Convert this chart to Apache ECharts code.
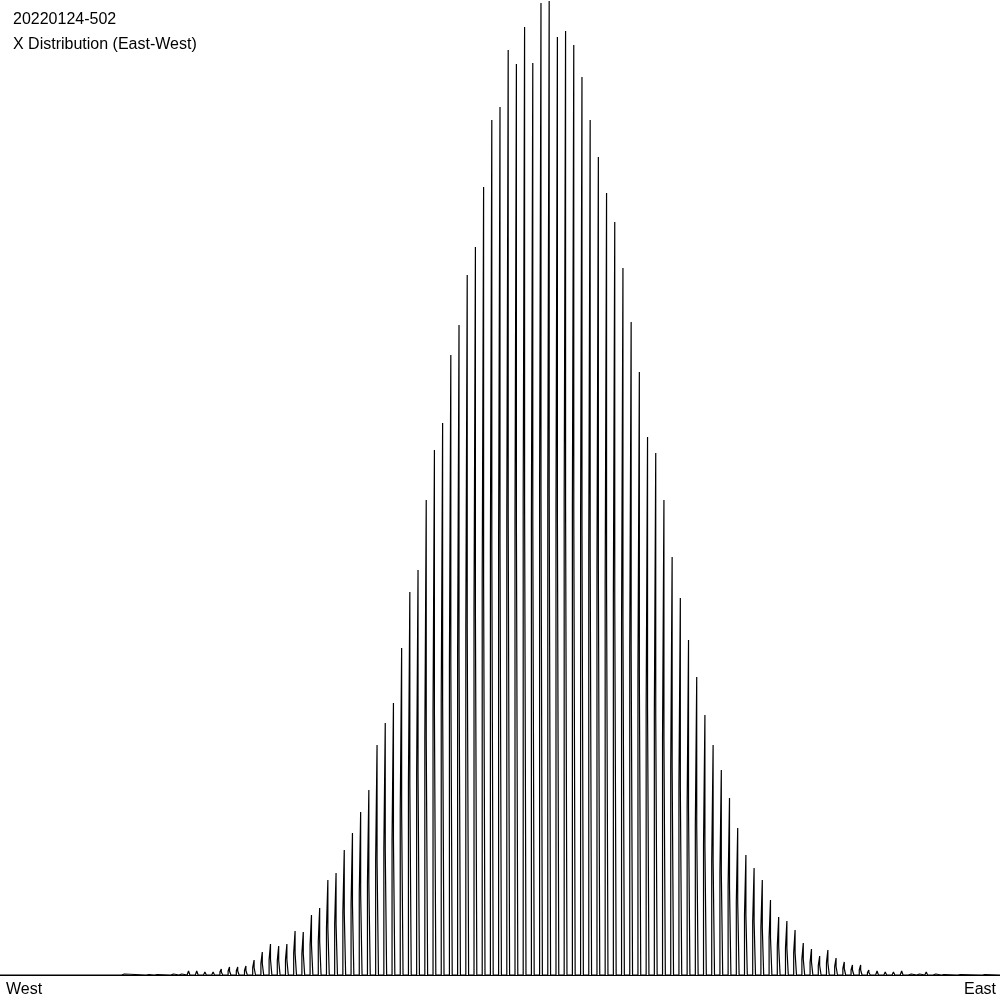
<!DOCTYPE html>
<html>
<head>
<meta charset="utf-8">
<script src="https://cdn.jsdelivr.net/npm/echarts@6/dist/echarts.min.js"></script>
<style>
html,body{margin:0;padding:0;background:#fff;}
#chart{width:1000px;height:1000px;}
</style>
</head>
<body>
<div id="chart"></div>
<script>
// Chart texts
const titleLines = ["20220124-502", "X Distribution (East-West)"];
const axisEnds = ["West", "East"];

// Bin offsets (West -> East), first and last bin
const firstBin = -52;
const lastBin = 53;

// Tall spike heights per bin, West -> East (bins -52 .. 53)
const westValues = [
  2, 0, 0, 1, 1, 0, 2, 2, 4, 4,      // -52 .. -43
  3, 3, 6, 8, 8, 9, 15, 23, 31, 29,  // -42 .. -33
  31, 44, 43, 60, 67, 95, 102, 125, 142, 163, // -32 .. -23
  185, 230, 252, 272, 327, 383, 405, 475, 525, 552, // -22 .. -13
  620, 650, 700, 728, 788, 855, 868, 925, 911, 948, // -12 .. -3
  912, 972                            // -2 .. -1
];
const centerValue = [974];           // 0
const eastValues = [
  938, 944, 930, 898, 855, 818, 782, 753, 707, 653, // 1 .. 10
  603, 538, 522, 475, 418, 377, 335, 298, 260, 230, // 11 .. 20
  205, 177, 147, 120, 107, 95, 75, 58, 54, 45,      // 21 .. 30
  32, 26, 19, 25, 17, 13, 10, 10, 5, 4,             // 31 .. 40
  3, 3, 4, 2, 2, 3, 2, 1, 0, 1,                     // 41 .. 50
  0, 0, 1                                           // 51 .. 53
];

const values = westValues.concat(centerValue, eastValues);
const bins = [];
for (let k = firstBin; k <= lastBin; k++) bins.push(k);

// Build the pulse outline: shoulder at half height, spike at full height
const hw = 0.17;
const pts = [[-67, 0]];
bins.forEach((k, i) => {
  const v = values[i];
  if (!v) return;
  const s = v / 2;
  pts.push([k - hw, 0], [k - hw, s], [k, s], [k, v], [k, s], [k + hw, s], [k + hw, 0]);
});
pts.push([55, 0]);

const chart = echarts.init(document.getElementById('chart'), null, {renderer: 'canvas'});
chart.setOption({
  animation: false,
  backgroundColor: '#fff',
  grid: {left: 0, right: 0, top: 0, bottom: 25, containLabel: false},
  xAxis: {
    type: 'value', min: -67, max: 55,
    axisLine: {show: true, onZero: false, lineStyle: {color: '#000', width: 1}},
    axisTick: {show: false}, axisLabel: {show: false}, splitLine: {show: false}
  },
  yAxis: {
    type: 'value', min: 0, max: 975, show: false, splitLine: {show: false}
  },
  series: [{
    type: 'line', data: pts, symbol: 'none', silent: true,
    lineStyle: {color: '#000', width: 1.2}, z: 5
  }],
  graphic: [
    {type: 'text', left: 13, top: 12, style: {text: titleLines[0], font: '16px "Liberation Sans", Arial, sans-serif', fill: '#000'}},
    {type: 'text', left: 13, top: 37, style: {text: titleLines[1], font: '16px "Liberation Sans", Arial, sans-serif', fill: '#000'}},
    {type: 'text', left: 6, top: 982, style: {text: axisEnds[0], font: '16px "Liberation Sans", Arial, sans-serif', fill: '#000'}},
    {type: 'text', right: 4, top: 982, style: {text: axisEnds[1], font: '16px "Liberation Sans", Arial, sans-serif', fill: '#000'}}
  ]
});
</script>
</body>
</html>
